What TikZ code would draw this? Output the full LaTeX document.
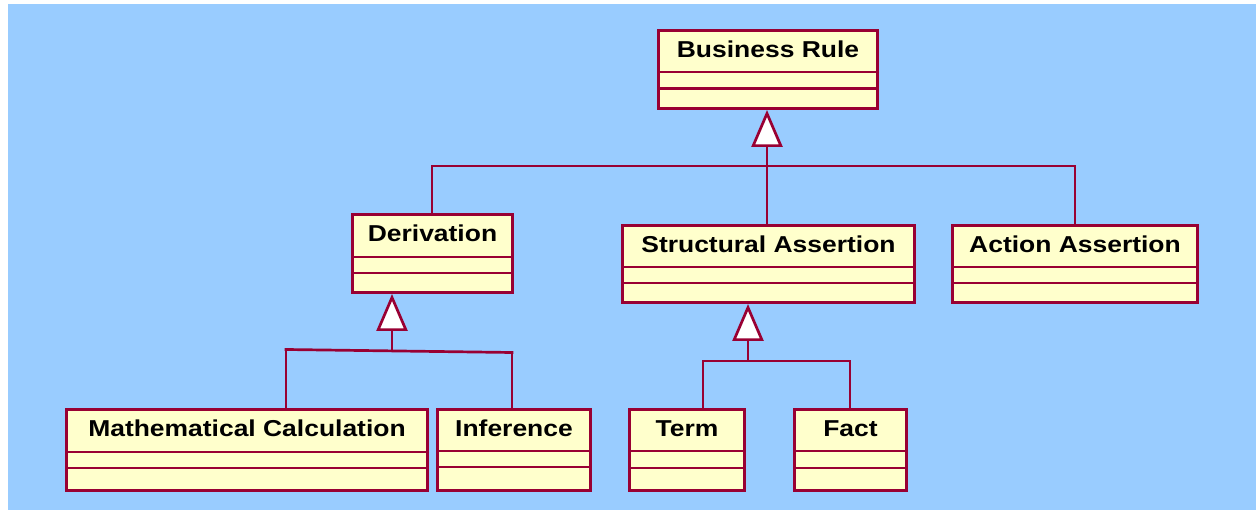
\documentclass[tikz,border=0pt]{standalone}
\usepackage{fontspec}
\newfontfamily\umlfont[FakeStretch=1.15]{Liberation Sans}
\usetikzlibrary{arrows.meta}
\definecolor{bgblue}{HTML}{99CCFF}
\definecolor{boxfill}{HTML}{FFFFCC}
\definecolor{umlred}{HTML}{990033}

\tikzset{
  umlbox/.style={draw=umlred, fill=boxfill, line width=3pt, rectangle, inner sep=0pt},
  divider/.style={draw=umlred, line width=2.5pt},
  umlline/.style={draw=umlred, line width=2.7pt, line cap=rect},
  umltext/.style={font=\umlfont\bfseries\fontsize{23}{26}\selectfont,
                  anchor=base, inner sep=0pt, text=black},
  gen/.style={umlline, -{Triangle[open, fill=white, length=37pt, width=31pt]}},
}

% class box: name, left, top, right, bottom, divider 1, divider 2, class name
\newcommand\classbox[8]{%
  \node[umlbox, minimum width={(#4-#2-3)*1pt}, minimum height={(#5-#3-3)*1pt}]
    (#1) at ({(#2+#4)/2},{(#3+#5)/2}) {};
  \draw[divider] (#1.west |- 0,#6) -- (#1.east |- 0,#6);
  \draw[divider] (#1.west |- 0,#7) -- (#1.east |- 0,#7);
  \node[umltext] (#1-t) at ({(#2+#4)/2},{#3+28.5}) {#8};
}

\begin{document}
\begin{tikzpicture}[x=1pt, y=-1pt]
  \useasboundingbox (0,0) rectangle (1256,510);
  \fill[white] (0,0) rectangle (1256,510);
  \fill[bgblue] (8,4) rectangle (1256,510);

  % classes
  \classbox{br}{657}{29}{879}{110}{72}{88.5}{Business Rule}
  \classbox{deriv}{351}{213}{514}{294}{257}{273}{Derivation}
  \classbox{sa}{621}{224}{916}{304}{267}{283}{Structural Assertion}
  \classbox{aa}{951}{224}{1199}{304}{267}{283}{Action Assertion}
  \classbox{mc}{65}{408}{429}{492}{452}{468}{Mathematical Calculation}
  \classbox{inf}{436}{408}{592}{492}{451}{467}{Inference}
  \classbox{term}{628}{408}{746}{492}{451}{468}{Term}
  \classbox{fact}{793}{408}{908}{492}{451}{468}{Fact}

  % Business Rule generalization
  \coordinate (brj) at (767,166);
  \coordinate (brl) at (432,166);
  \coordinate (brr) at (1075,166);
  \draw[umlline] (brl) -- (brr);
  \draw[umlline] (brl) -- (brl |- deriv.north);
  \draw[umlline] (brr) -- (brr |- aa.north);
  \draw[umlline] (brj) -- (brj |- sa.north);
  \draw[gen] (brj) -- (brj |- br.south);

  % Derivation generalization
  \coordinate (dj) at (392,351);
  \coordinate (dl) at (286,349.5);
  \coordinate (dr) at (512,352.5);
  \draw[umlline] (dl) -- (dr);
  \draw[umlline] (dl) -- (dl |- mc.north);
  \draw[umlline] (dr) -- (dr |- inf.north);
  \draw[gen] (dj) -- (dj |- deriv.south);

  % Structural Assertion generalization
  \coordinate (sj) at (748,361);
  \coordinate (tl) at (703,361);
  \coordinate (fr) at (850,361);
  \draw[umlline] (tl) -- (fr);
  \draw[umlline] (tl) -- (tl |- term.north);
  \draw[umlline] (fr) -- (fr |- fact.north);
  \draw[gen] (sj) -- (sj |- sa.south);
\end{tikzpicture}
\end{document}
